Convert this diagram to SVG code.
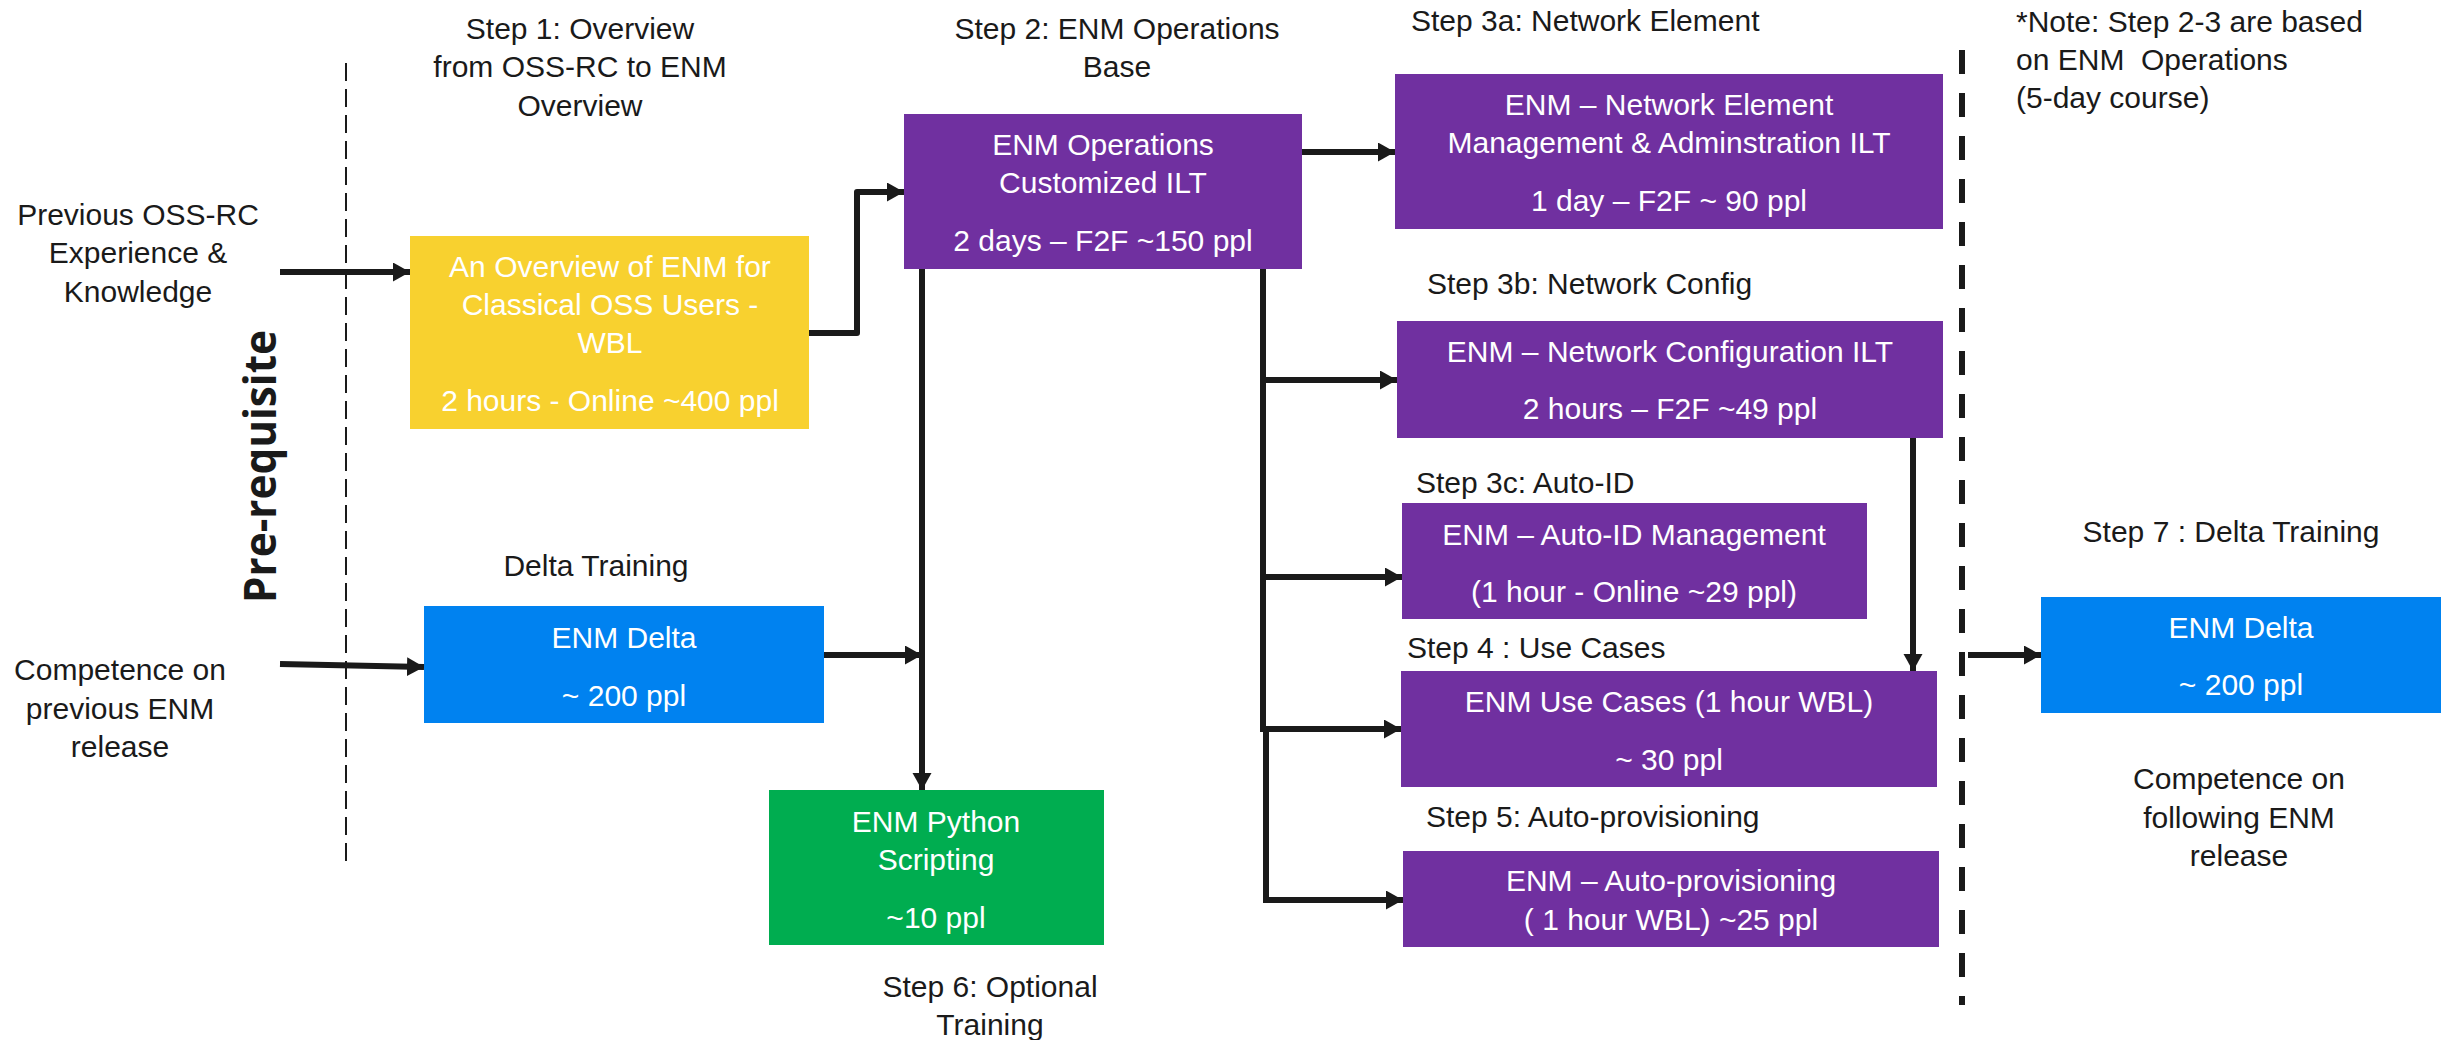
<svg xmlns="http://www.w3.org/2000/svg" width="2441" height="1040" viewBox="0 0 2441 1040">
<style>
.t{font-family:"Liberation Sans",Arial,sans-serif;font-size:30px;fill:#1a1a1a}
.w{fill:#ffffff}
.c{text-anchor:middle}
.purple{fill:#7030A0}
.yellow{fill:#F8D12F}
.blue{fill:#0082F0}
.green{fill:#00AD50}
.ln{stroke:#1a1a1a;stroke-width:6;fill:none;stroke-linejoin:round}
.ar{marker-end:url(#ah)}
</style>
<defs>
<marker id="ah" markerUnits="userSpaceOnUse" markerWidth="18" markerHeight="20" refX="17" refY="9.5" orient="auto">
<path d="M0,0 L17,9.5 L0,19 z" fill="#1a1a1a"/>
</marker>
</defs>
<rect width="2441" height="1040" fill="#ffffff"/>

<g id="separators">
<line x1="346" y1="63" x2="346" y2="869" stroke="#1a1a1a" stroke-width="2" stroke-dasharray="18 8"/>
<line x1="1962" y1="50" x2="1962" y2="1005" stroke="#1a1a1a" stroke-width="6" stroke-dasharray="24 19"/>
</g>

<g id="labels">
<text transform="translate(276,603) rotate(-90)" textLength="273" lengthAdjust="spacingAndGlyphs" style="font-family:'Open Sans','Noto Sans',sans-serif;font-weight:bold;font-size:45px;fill:#1a1a1a">Pre-requisite</text>
<text class="t c" x="580" y="39">Step 1: Overview</text>
<text class="t c" x="580" y="77">from OSS-RC to ENM</text>
<text class="t c" x="580" y="116">Overview</text>
<text class="t c" x="1117" y="39">Step 2: ENM Operations</text>
<text class="t c" x="1117" y="77">Base</text>
<text class="t" x="1411" y="31">Step 3a: Network Element</text>
<text class="t" x="1427" y="294">Step 3b: Network Config</text>
<text class="t" x="1416" y="493">Step 3c: Auto-ID</text>
<text class="t" x="1407" y="658">Step 4 : Use Cases</text>
<text class="t" x="1426" y="827">Step 5: Auto-provisioning</text>
<text class="t c" x="990" y="997">Step 6: Optional</text>
<text class="t c" x="990" y="1035">Training</text>
<text class="t c" x="2231" y="542">Step 7 : Delta Training</text>
<text class="t" x="2016" y="32">*Note: Step 2-3 are based</text>
<text class="t" x="2016" y="70" xml:space="preserve">on ENM  Operations</text>
<text class="t" x="2016" y="108">(5-day course)</text>
<text class="t c" x="596" y="576">Delta Training</text>
</g>

<g id="node-prev-oss">
<text class="t c" x="138" y="225">Previous OSS-RC</text>
<text class="t c" x="138" y="263">Experience &amp;</text>
<text class="t c" x="138" y="302">Knowledge</text>
</g>
<g id="node-prev-enm">
<text class="t c" x="120" y="680">Competence on</text>
<text class="t c" x="120" y="719">previous ENM</text>
<text class="t c" x="120" y="757">release</text>
</g>
<g id="node-following-enm">
<text class="t c" x="2239" y="789">Competence on</text>
<text class="t c" x="2239" y="828">following ENM</text>
<text class="t c" x="2239" y="866">release</text>
</g>

<g id="node-overview">
<rect class="yellow" x="410" y="236" width="399" height="193"/>
<text class="t w c" x="610" y="277">An Overview of ENM for</text>
<text class="t w c" x="610" y="315">Classical OSS Users -</text>
<text class="t w c" x="610" y="353">WBL</text>
<text class="t w c" x="610" y="411">2 hours - Online ~400 ppl</text>
</g>

<g id="node-operations">
<rect class="purple" x="904" y="114" width="398" height="155"/>
<text class="t w c" x="1103" y="155">ENM Operations</text>
<text class="t w c" x="1103" y="193">Customized ILT</text>
<text class="t w c" x="1103" y="251">2 days – F2F ~150 ppl</text>
</g>

<g id="node-network-element">
<rect class="purple" x="1395" y="74" width="548" height="155"/>
<text class="t w c" x="1669" y="115">ENM – Network Element</text>
<text class="t w c" x="1669" y="153">Management &amp; Adminstration ILT</text>
<text class="t w c" x="1669" y="211">1 day – F2F ~ 90 ppl</text>
</g>

<g id="node-network-config">
<rect class="purple" x="1397" y="321" width="546" height="117"/>
<text class="t w c" x="1670" y="362">ENM – Network Configuration ILT</text>
<text class="t w c" x="1670" y="419">2 hours – F2F ~49 ppl</text>
</g>

<g id="node-auto-id">
<rect class="purple" x="1402" y="503" width="465" height="116"/>
<text class="t w c" x="1634" y="545">ENM – Auto-ID Management</text>
<text class="t w c" x="1634" y="602">(1 hour - Online ~29 ppl)</text>
</g>

<g id="node-use-cases">
<rect class="purple" x="1401" y="671" width="536" height="116"/>
<text class="t w c" x="1669" y="712">ENM Use Cases (1 hour WBL)</text>
<text class="t w c" x="1669" y="770">~ 30 ppl</text>
</g>

<g id="node-auto-prov">
<rect class="purple" x="1403" y="851" width="536" height="96"/>
<text class="t w c" x="1671" y="891">ENM – Auto-provisioning</text>
<text class="t w c" x="1671" y="930">( 1 hour WBL) ~25 ppl</text>
</g>

<g id="node-delta">
<rect class="blue" x="424" y="606" width="400" height="117"/>
<text class="t w c" x="624" y="648">ENM Delta</text>
<text class="t w c" x="624" y="706">~ 200 ppl</text>
</g>

<g id="node-python">
<rect class="green" x="769" y="790" width="335" height="155"/>
<text class="t w c" x="936" y="832">ENM Python</text>
<text class="t w c" x="936" y="870">Scripting</text>
<text class="t w c" x="936" y="928">~10 ppl</text>
</g>

<g id="node-delta-7">
<rect class="blue" x="2041" y="597" width="400" height="116"/>
<text class="t w c" x="2241" y="638">ENM Delta</text>
<text class="t w c" x="2241" y="695">~ 200 ppl</text>
</g>

<g id="connectors">
<line class="ln ar" x1="280" y1="272" x2="410" y2="272"/>
<line class="ln ar" x1="280" y1="664" x2="424" y2="667"/>
<path class="ln ar" d="M809,333 H857 V192 H904"/>
<line class="ln ar" x1="1302" y1="152" x2="1395" y2="152"/>
<line class="ln ar" x1="922" y1="269" x2="922" y2="790"/>
<line class="ln ar" x1="824" y1="655" x2="922" y2="655"/>
<line class="ln" x1="1263" y1="269" x2="1263" y2="732"/>
<line class="ln" x1="1266" y1="726" x2="1266" y2="903"/>
<line class="ln ar" x1="1263" y1="380" x2="1397" y2="380"/>
<line class="ln ar" x1="1263" y1="577" x2="1402" y2="577"/>
<line class="ln ar" x1="1263" y1="729" x2="1401" y2="729"/>
<line class="ln ar" x1="1266" y1="900" x2="1403" y2="900"/>
<line class="ln ar" x1="1913" y1="438" x2="1913" y2="671"/>
<line class="ln ar" x1="1968" y1="655" x2="2041" y2="655"/>
</g>
</svg>
